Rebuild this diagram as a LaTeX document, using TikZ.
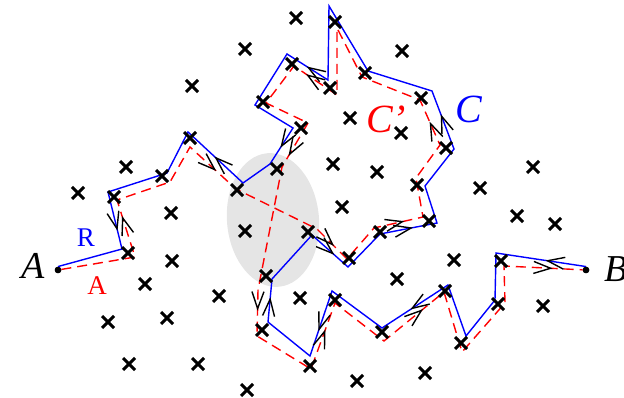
\documentclass[tikz,border=0pt]{standalone}
\usepackage{fontspec}
\setmainfont{Liberation Serif}
\usetikzlibrary{arrows.meta,decorations.markings,shapes.misc,shapes.geometric}
\tikzset{
	dotP/.style={fill,circle,inner sep=0pt,minimum size=6.5pt},
	crossP/.style={cross out,draw,inner sep=0pt,minimum size=9pt,line width=3pt},
	pathC/.style={draw=blue,line width=1.4pt},
	pathCp/.style={draw=red,line width=1.4pt,dash pattern=on 10pt off 6pt},
	arrC/.style={blue},
	arrCp/.style={red},
	midarr/.style={decorate,decoration={markings,
		mark=at position #1 with {\arrow{Straight Barb[length=17pt,width=12pt,line width=1.4pt]}}}},
	big/.style={font=\itshape\fontsize{38}{38}\selectfont,inner sep=0pt},
	small/.style={font=\fontsize{27}{27}\selectfont,inner sep=0pt},
}

\begin{document}
\begin{tikzpicture}[x=1pt,y=-1pt]
\useasboundingbox (0,0) rectangle (624,398);
\node[ellipse,fill=black!10,minimum width=92pt,minimum height=134pt,rotate=5] (zone) at (273,220) {};

\node[dotP] (A) at (58,270) {};
\node[dotP] (B) at (586,270) {};

% path C
\coordinate (b1) at (122,249);
\coordinate (b2) at (108,192);
\coordinate (b3) at (167,173);
\coordinate (b4) at (188,132);
\coordinate (b5) at (243,183);
\coordinate (b6) at (270,164);
\coordinate (b7) at (293,128);
\coordinate (b8) at (255,105);
\coordinate (b9) at (287,54);
\coordinate (b10) at (328,80);
\coordinate (b11) at (329,6);
\coordinate (b12) at (368,71);
\coordinate (b13) at (432,91);
\coordinate (b14) at (454,149);
\coordinate (b15) at (425,186);
\coordinate (b16) at (437,223);
\coordinate (b17) at (380,234);
\coordinate (b18) at (348,267);
\coordinate (b19) at (312,235);
\coordinate (b20) at (272,279);
\coordinate (b21) at (268,322);
\coordinate (b22) at (310,356);
\coordinate (b23) at (332,291);
\coordinate (b24) at (382,328);
\coordinate (b25) at (448,285);
\coordinate (b26) at (466,336);
\coordinate (b27) at (495,300);
\coordinate (b28) at (496,253);

% path C'
\coordinate (r1) at (135,257);
\coordinate (r2) at (117,200);
\coordinate (r3) at (170,182);
\coordinate (r4) at (190,147);
\coordinate (r5) at (236,189);
\coordinate (r6) at (317,229);
\coordinate (r7) at (347,259);
\coordinate (r8) at (374,228);
\coordinate (r9) at (423,217);
\coordinate (r10) at (416,178);
\coordinate (r11) at (440,145);
\coordinate (r12) at (420,100);
\coordinate (r13) at (362,77);
\coordinate (r14) at (337,28);
\coordinate (r15) at (337,95);
\coordinate (r16) at (294,66);
\coordinate (r17) at (266,103);
\coordinate (r18) at (308,123);
\coordinate (r19) at (282,167);
\coordinate (r20) at (258,290);
\coordinate (r21) at (257,336);
\coordinate (r22) at (311,369);
\coordinate (r23) at (335,303);
\coordinate (r24) at (384,341);
\coordinate (r25) at (444,292);
\coordinate (r26) at (462,352);
\coordinate (r27) at (505,303);
\coordinate (r28) at (504,266);

\draw[pathC] (A.north) -- (b1) -- (b2) -- (b3) -- (b4) -- (b5) -- (b6) -- (b7)
	-- (b8) -- (b9) -- (b10) -- (b11) -- (b12) -- (b13) -- (b14) -- (b15)
	-- (b16) -- (b17) -- (b18) -- (b19) -- (b20) -- (b21) -- (b22) -- (b23)
	-- (b24) -- (b25) -- (b26) -- (b27) -- (b28) -- (B.north);
\draw[pathCp] (A) -- (r1) -- (r2) -- (r3) -- (r4) -- (r5) -- (r6) -- (r7)
	-- (r8) -- (r9) -- (r10) -- (r11) -- (r12) -- (r13) -- (r14) -- (r15)
	-- (r16) -- (r17) -- (r18) -- (r19) -- (r20) -- (r21) -- (r22) -- (r23)
	-- (r24) -- (r25) -- (r26) -- (r27) -- (r28) -- (B);

\foreach \s/\e/\f in {B.north/b28/.45, b25/b24/.57, b23/b22/.62, b21/b20/.58,
	b19/b18/.62, b17/b16/.58, b14/b13/.6, b10/b9/.52, b7/b6/.55, b5/b4/.52, b2/b1/.68}
	\path[arrC,midarr=\f] (\s) -- (\e);
\foreach \s/\e/\f in {r1/r2/.72, r4/r5/.57, r6/r7/.57, r8/r9/.62, r11/r12/.52,
	r15/r16/.72, r18/r19/.75, r20/r21/.45, r22/r23/.6, r24/r25/.65, r28/B/.62}
	\path[arrCp,midarr=\f] (\s) -- (\e);

% stations
\foreach \p [count=\i] in {(296,18),(245,49),(192,86),(335,22),(402,51),(292,64),
	(365,73),(330,88),(263,102),(421,98),(350,118),(301,128),(401,133),(190,138),
	(446,148),(333,164),(277,169),(126,167),(162,176),(377,172),(533,167),(78,193),
	(114,197),(237,190),(417,185),(480,188),(342,207),(171,213),(517,216),(555,224),
	(429,221),(245,231),(308,232),(380,232),(128,253),(349,258),(172,261),(454,260),
	(501,261),(266,276),(397,279),(145,284),(219,296),(300,298),(335,300),(445,291),
	(498,304),(543,306),(108,322),(167,318),(262,330),(382,332),(461,343),(310,366),
	(129,364),(198,364),(247,390),(357,381),(425,373)}
	\node[crossP] (x\i) at \p {};

\node[dotP] at (A) {};
\node[dotP] at (B) {};

\node[big] (nameA) at (33,266) {A};
\node[big] (nameB) at (616,269) {B};
\node[big,blue,font=\itshape\fontsize{40}{40}\selectfont] (labC) at (469,109) {C};
\node[big,red,font=\itshape\fontsize{40}{40}\selectfont] (labCp) at (386,119) {C'};
\node[small,blue] (labR) at (86,238) {R};
\node[small,red] (labA) at (97,286) {A};
\end{tikzpicture}
\end{document}
